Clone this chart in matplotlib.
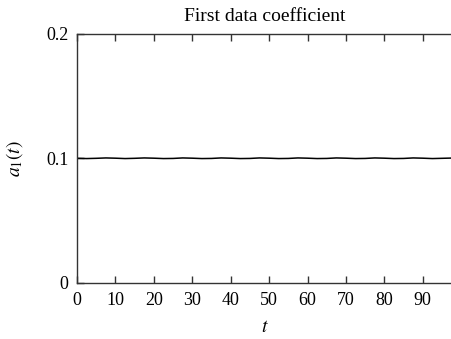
import matplotlib
matplotlib.use("Agg")
import matplotlib.pyplot as plt

t = [0, 2.5, 5, 7.5, 10, 12.5, 15, 17.5, 20, 22.5, 25, 27.5, 30, 32.5, 35, 37.5,
     40, 42.5, 45, 47.5, 50, 52.5, 55, 57.5, 60, 62.5, 65, 67.5, 70, 72.5, 75,
     77.5, 80, 82.5, 85, 87.5, 90, 92.5, 95, 97.5]
a1 = [0.1000, 0.0998, 0.1000, 0.1003, 0.1001, 0.0998, 0.1000, 0.1003, 0.1001,
      0.0998, 0.0999, 0.1003, 0.1001, 0.0998, 0.0999, 0.1003, 0.1001, 0.0998,
      0.0999, 0.1003, 0.1001, 0.0998, 0.0999, 0.1003, 0.1001, 0.0998, 0.0999,
      0.1003, 0.1001, 0.0998, 0.0999, 0.1003, 0.1001, 0.0998, 0.0999, 0.1003,
      0.1001, 0.0998, 0.1000, 0.1002]
xticks = [0, 10, 20, 30, 40, 50, 60, 70, 80, 90]
yticks = [0, 0.1, 0.2]
ytick_labels = ["0", "0.1", "0.2"]

plt.rcParams['font.family'] = ['Liberation Serif', 'DejaVu Serif']
plt.rcParams['mathtext.fontset'] = 'stix'
plt.rcParams['font.size'] = 13

fig = plt.figure(figsize=(4.52, 3.39), dpi=100)
ax = fig.add_axes([0.1704, 0.166, 0.8296, 0.734])
ax.plot(t, a1, color='black', lw=1.1)

ax.set_xlim(0, 97.6)
ax.set_ylim(0, 0.2)
ax.set_xticks(xticks)
ax.set_yticks(yticks)
ax.set_yticklabels(ytick_labels)
ax.tick_params(direction='in', length=5, width=1, color='#333333',
               top=True, right=False, labelsize=13)
ax.tick_params(axis='x', pad=7)
ax.tick_params(axis='y', pad=6)
for s in ['left', 'bottom', 'top']:
    ax.spines[s].set_color('#333333')
    ax.spines[s].set_linewidth(1)
ax.spines['right'].set_visible(False)

ax.set_title("First data coefficient", fontsize=14, pad=9)
ax.set_xlabel("$t$", fontsize=14, labelpad=7)
ax.set_ylabel("$a_1(t)$", fontsize=14, labelpad=15)

fig.savefig("out.png", dpi=100)
